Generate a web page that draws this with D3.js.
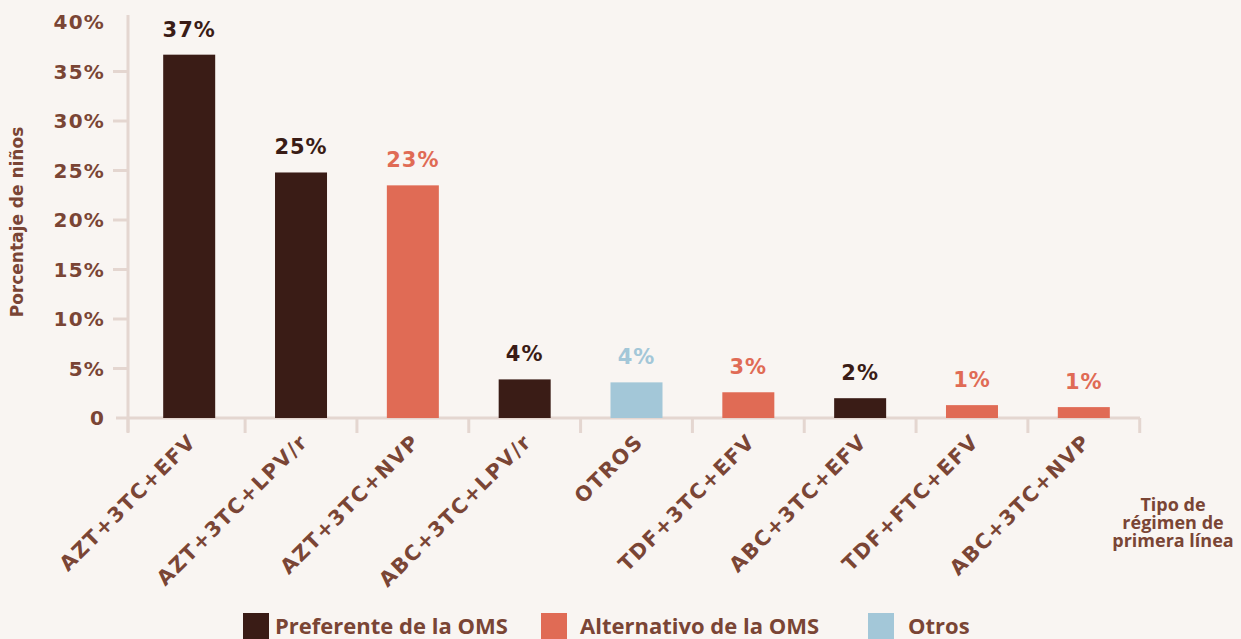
<!DOCTYPE html>
<html><head><meta charset="utf-8">
<script src="https://cdn.jsdelivr.net/npm/d3@7"></script>
<style>
html,body{margin:0;padding:0;background:#f9f5f2;}
svg{display:block;}
</style></head>
<body>
<svg id="chart" width="1241" height="639"></svg>
<script>
const categories = ["AZT+3TC+EFV","AZT+3TC+LPV/r","AZT+3TC+NVP","ABC+3TC+LPV/r","OTROS","TDF+3TC+EFV","ABC+3TC+EFV","TDF+FTC+EFV","ABC+3TC+NVP"];
const values = [36.7, 24.8, 23.5, 3.9, 3.6, 2.6, 2.0, 1.3, 1.1];
const labels = ["37%","25%","23%","4%","4%","3%","2%","1%","1%"];
const groups = ["pref","pref","alt","pref","otros","alt","pref","alt","alt"];
const yTicks = [0,5,10,15,20,25,30,35,40];
const yTickLabels = ["0","5%","10%","15%","20%","25%","30%","35%","40%"];
const legendKeys = ["pref","alt","otros"];
const legendLabels = ["Preferente de la OMS","Alternativo de la OMS","Otros"];

const colors = {pref:"#3a1c16", alt:"#e06b55", otros:"#a3c7d8"};
const textCol = "#7a4535";
const axisCol = "#e4d6d0";
const numFont = "'DejaVu Sans', sans-serif";
const sansFont = "'Open Sans', 'Noto Sans', sans-serif";

const svg = d3.select("#chart");
svg.append("rect").attr("width",1241).attr("height",639).attr("fill","#f9f5f2");

const x = d3.scaleBand().domain(categories).range([133,1140]).paddingInner(0.535).paddingOuter(0.27);
const y = d3.scaleLinear().domain([0,40]).range([418,22]);

// y axis
const gy = svg.append("g").attr("transform","translate(128,0)");
gy.append("line").attr("x1",0).attr("x2",0).attr("y1",15).attr("y2",432).attr("stroke",axisCol).attr("stroke-width",3);
gy.selectAll("line.t").data(yTicks.filter(d=>d>0 && d<40)).join("line").attr("class","t")
  .attr("x1",-15).attr("x2",0).attr("y1",d=>y(d)).attr("y2",d=>y(d)).attr("stroke",axisCol).attr("stroke-width",3);
gy.selectAll("text").data(yTicks).join("text")
  .attr("x",-23).attr("y",d=>y(d)).attr("dy","0.36em").attr("text-anchor","end")
  .attr("fill",textCol).attr("font-family",numFont).attr("font-weight",700).attr("font-size",20)
  .attr("letter-spacing",1.2)
  .text((d,i)=>yTickLabels[i]);

// x axis
const xBoundaries = categories.map(c=>x(c)+x.bandwidth()/2 + x.step()/2);
svg.append("line").attr("x1",116).attr("x2",1140).attr("y1",418).attr("y2",418).attr("stroke",axisCol).attr("stroke-width",3);
svg.selectAll("line.xt").data([128].concat(xBoundaries)).join("line").attr("class","xt")
  .attr("x1",d=>d).attr("x2",d=>d).attr("y1",418).attr("y2",433).attr("stroke",axisCol).attr("stroke-width",3);

// bars
svg.selectAll("rect.bar").data(categories).join("rect").attr("class","bar")
  .attr("x",c=>x(c)).attr("width",x.bandwidth())
  .attr("y",(c,i)=>y(values[i])).attr("height",(c,i)=>y(0)-y(values[i]))
  .attr("fill",(c,i)=>colors[groups[i]]);

// value labels
svg.selectAll("text.val").data(categories).join("text").attr("class","val")
  .attr("x",c=>x(c)+x.bandwidth()/2).attr("y",(c,i)=>y(values[i])-18)
  .attr("text-anchor","middle").attr("fill",(c,i)=>colors[groups[i]])
  .attr("font-family",numFont).attr("font-weight",700).attr("font-size",21).attr("letter-spacing",1)
  .text((c,i)=>labels[i]);

// x labels
svg.selectAll("text.xl").data(categories).join("text").attr("class","xl")
  .attr("transform",c=>`translate(${x(c)+x.bandwidth()/2+8},${443}) rotate(-45)`)
  .attr("text-anchor","end").attr("fill",textCol)
  .attr("font-family",numFont).attr("font-weight",700).attr("font-size",20.5).attr("letter-spacing",1.5)
  .text(c=>c);

// y title
svg.append("text").attr("transform","translate(23,222) rotate(-90)").attr("text-anchor","middle")
  .attr("fill",textCol).attr("font-family",numFont).attr("font-weight",700).attr("font-size",17)
  .text("Porcentaje de niños");

// x title
const xt = svg.append("text").attr("text-anchor","middle").attr("fill",textCol)
  .attr("font-family",sansFont).attr("font-weight",700).attr("font-size",18);
["Tipo de","régimen de","primera línea"].forEach((t,i)=>{
  xt.append("tspan").attr("x",1173).attr("y",511+i*18).text(t);
});

// legend
const legX = [243,541,868];
const lg = svg.selectAll("g.leg").data(legendKeys).join("g").attr("class","leg")
  .attr("transform",(d,i)=>`translate(${legX[i]},613)`);
lg.append("rect").attr("width",26).attr("height",26).attr("fill",d=>colors[d]);
lg.append("text").attr("x",(d,i)=>[32,39,40][i]).attr("y",21).attr("fill",textCol)
  .attr("font-family",sansFont).attr("font-weight",700).attr("font-size",22)
  .text((d,i)=>legendLabels[i]);
</script>
</body></html>
